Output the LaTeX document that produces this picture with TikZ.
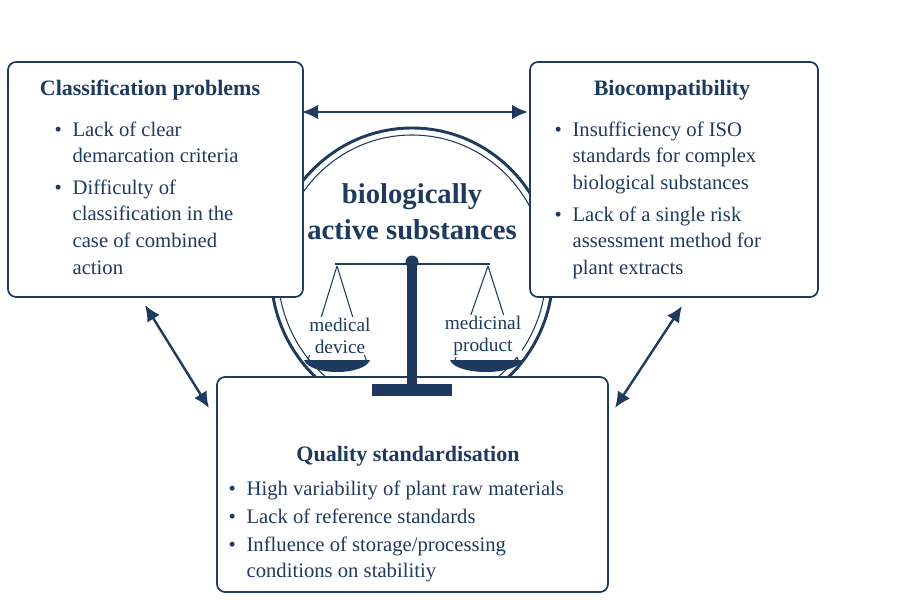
\documentclass[tikz,border=0pt]{standalone}
\usepackage{fontspec}
\setmainfont{Liberation Serif}
\usetikzlibrary{arrows.meta}
\definecolor{navy}{HTML}{1F3A5F}
\begin{document}
\begin{tikzpicture}[x=0.75pt,y=-0.75pt,
  box/.style={draw=navy,line width=1.3pt,rounded corners=6pt,fill=white},
  ttl/.style={text=navy,font=\fontsize{16.5}{19}\selectfont\bfseries},
  txt/.style={text=navy,font=\fontsize{15.5}{20}\selectfont,align=left,anchor=north west},
  arr/.style={draw=navy,line width=1.8pt,{Latex[length=12pt,width=11pt]}-{Latex[length=12pt,width=11pt]}}]
\useasboundingbox (0,0) rectangle (900,600);
% circle
\draw[navy,line width=2.2pt] (412,272) ellipse (141 and 144);
\draw[navy,line width=0.8pt] (412,272) ellipse (134 and 137);
% boxes
\node[box,minimum width=295*0.75pt,minimum height=235*0.75pt] (L) at (155.5,179.5) {};
\node[box,minimum width=288*0.75pt,minimum height=235*0.75pt] (R) at (674,179.5) {};
\node[box,minimum width=391*0.75pt,minimum height=215*0.75pt] (B) at (412.5,484.5) {};
\node[ttl] (lt) at (150,90) {Classification problems};
\node[ttl] (rt) at (672,90) {Biocompatibility};
\node[ttl] (bt) at (408,456) {Quality standardisation};
\node[txt] (l1) at (50,117) {•\hspace{8pt}\parbox[t]{180pt}{Lack of clear\\demarcation criteria}};
\node[txt] (l2) at (50,175) {•\hspace{8pt}\parbox[t]{180pt}{Difficulty of\\classification in the\\case of combined\\action}};
\node[txt] (r1) at (550,117) {•\hspace{8pt}\parbox[t]{200pt}{Insufficiency of ISO\\standards for complex\\biological substances}};
\node[txt] (r2) at (550,202) {•\hspace{8pt}\parbox[t]{200pt}{Lack of a single risk\\assessment method for\\plant extracts}};
\node[txt] (b1) at (224,476) {•\hspace{8pt}High variability of plant raw materials};
\node[txt] (b2) at (224,504) {•\hspace{8pt}Lack of reference standards};
\node[txt] (b3) at (224,532) {•\hspace{8pt}\parbox[t]{300pt}{Influence of storage/processing\\conditions on stabilitiy}};
% center text
\node[text=navy,font=\fontsize{21.5}{27}\selectfont\bfseries,align=center] (ct) at (412,212) {biologically\\active substances};
% scale
\draw[navy,line width=2pt] (335,264) -- (490,264);
\draw[navy,line width=0.8pt] (337,266) -- (308,360) (337,266) -- (366,360);
\draw[navy,line width=0.8pt] (488,266) -- (455,360) (488,266) -- (518,360);
\fill[navy] (412,262) circle (6.5);
\fill[navy] (407,264) rectangle (417,386);
\fill[navy] (372,384) rectangle (452,396);
\fill[navy] (304,360) -- (370,360) .. controls (364,376) and (310,376) .. cycle;
\fill[navy] (450,360) -- (522,360) .. controls (516,376) and (456,376) .. cycle;
\node[text=navy,fill=white,inner sep=1pt,font=\fontsize{14.5}{17}\selectfont,align=center] (md) at (340,336) {medical\\device};
\node[text=navy,fill=white,inner sep=1pt,font=\fontsize{14.5}{17}\selectfont,align=center] (mp) at (483,336) {medicinal\\product};
% arrows
\coordinate (a1) at (302,112); \coordinate (a2) at (528,112);
\coordinate (b1a) at (145,305); \coordinate (b1b) at (209,408);
\coordinate (c1a) at (682,306); \coordinate (c1b) at (615,408);
\draw[arr] (a1) -- (a2);
\draw[arr] (b1a) -- (b1b);
\draw[arr] (c1a) -- (c1b);
\end{tikzpicture}
\end{document}
